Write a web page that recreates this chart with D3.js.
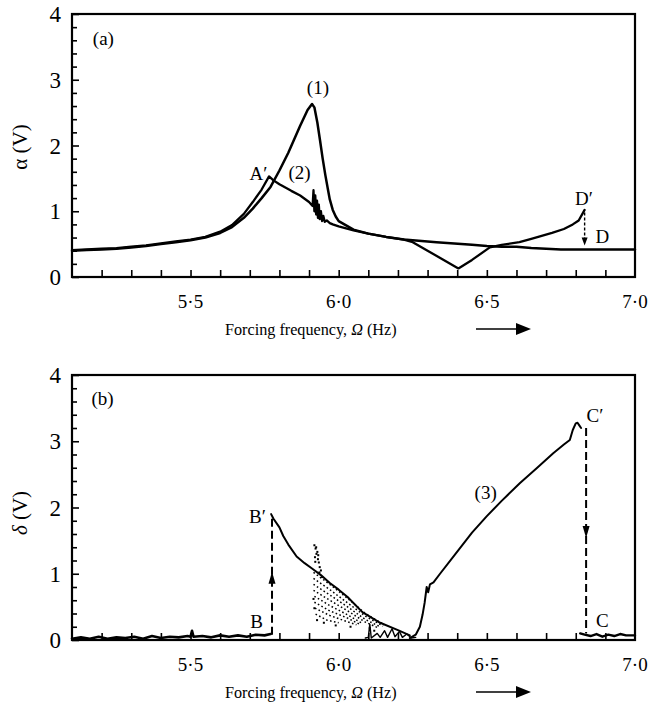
<!DOCTYPE html>
<html>
<head>
<meta charset="utf-8">
<script src="https://cdn.jsdelivr.net/npm/d3@7"></script>
<style>
  body { margin: 0; background: #fff; }
  svg text { font-family: "Liberation Serif", "Times New Roman", serif; fill: #000; }
</style>
</head>
<body>
<svg id="chart" width="650" height="707"></svg>
<script>
// ---------------- data ----------------
const xTickValues = [5.5, 6.0, 6.5, 7.0];
const xTickLabels = ["5·5", "6·0", "6·5", "7·0"];
const yTickValues = [0, 1, 2, 3, 4];
const yTickLabels = ["0", "1", "2", "3", "4"];

// (a) alpha, branch (1)
const alpha1Freq = [5.10,5.15,5.20,5.25,5.30,5.35,5.40,5.45,5.50,5.55,5.60,5.64,5.68,5.71,5.74,5.77,5.80,5.83,5.87,5.895,5.91,5.918,5.928,5.937,5.946,5.955,5.963,5.97,5.98,5.99,6.00,6.05,6.10,6.16,6.22,6.27,6.33,6.39,6.45,6.50,6.55,6.60,6.65,6.70,6.75,6.80,6.85,6.90,6.95,7.00];
const alpha1Amp  = [0.40,0.41,0.42,0.43,0.45,0.47,0.50,0.53,0.56,0.60,0.67,0.76,0.90,1.04,1.20,1.37,1.62,1.89,2.30,2.54,2.63,2.58,2.35,2.08,1.80,1.55,1.35,1.18,1.02,0.92,0.85,0.72,0.66,0.61,0.57,0.55,0.53,0.51,0.49,0.47,0.46,0.46,0.44,0.43,0.42,0.42,0.42,0.42,0.42,0.42];

// (a) alpha, branch (2): A' then dip near 6.4 and D'
const alpha2Freq = [5.10,5.15,5.20,5.25,5.30,5.35,5.40,5.45,5.50,5.55,5.60,5.64,5.68,5.71,5.74,5.765,5.78,5.80,5.84,5.87,5.90,5.912,5.915,5.918,5.921,5.924,5.927,5.930,5.933,5.936,5.940,5.944,5.948,5.953,5.96,5.97,5.98,6.00,6.05,6.10,6.16,6.22,6.25,6.30,6.35,6.404,6.45,6.51,6.55,6.61,6.65,6.72,6.76,6.79,6.81,6.83];
const alpha2Amp  = [0.41,0.42,0.43,0.44,0.46,0.48,0.51,0.54,0.57,0.61,0.69,0.79,0.96,1.14,1.33,1.53,1.47,1.41,1.31,1.24,1.14,1.08,1.32,1.00,1.24,0.95,1.16,0.90,1.10,0.88,1.00,0.85,0.93,0.84,0.86,0.82,0.80,0.77,0.71,0.66,0.61,0.57,0.53,0.40,0.27,0.13,0.26,0.45,0.49,0.53,0.58,0.67,0.73,0.80,0.86,1.02];

// (a) jump D' -> D
const jumpAFreq = [6.83];
const jumpAFrom = [0.98];
const jumpATo   = [0.48];

// (b) delta, quiet part before B
const delta0Freq = [5.10,5.13,5.16,5.19,5.22,5.25,5.28,5.31,5.34,5.37,5.40,5.43,5.46,5.49,5.50,5.505,5.51,5.54,5.57,5.60,5.63,5.66,5.69,5.72,5.75,5.77];
const delta0Amp  = [0.02,0.04,0.02,0.05,0.02,0.04,0.03,0.05,0.02,0.06,0.03,0.05,0.04,0.06,0.05,0.14,0.05,0.06,0.04,0.07,0.05,0.07,0.05,0.08,0.07,0.09];

// (b) delta, branch from B' down to the quiet zone
const delta1Freq = [5.772,5.78,5.80,5.813,5.83,5.858,5.885,5.91,5.94,5.97,6.00,6.03,6.08,6.14,6.20,6.24];
const delta1Amp  = [1.90,1.83,1.70,1.57,1.44,1.26,1.16,1.08,0.98,0.86,0.76,0.65,0.42,0.26,0.15,0.07];

// (b) scattered modulated band
const stripe1 = [[5.915,1.02],[5.97,0.84],[6.03,0.63],[6.09,0.40],[6.15,0.24]];
const stripe2 = [[5.915,0.93],[5.97,0.76],[6.03,0.56],[6.09,0.36],[6.15,0.21]];
const stripe3 = [[5.915,0.84],[5.97,0.68],[6.03,0.50],[6.09,0.31],[6.14,0.20]];
const stripe4 = [[5.915,0.75],[5.97,0.60],[6.03,0.44],[6.09,0.27],[6.13,0.19]];
const stripe5 = [[5.918,0.66],[5.97,0.52],[6.03,0.38],[6.08,0.25]];
const stripe6 = [[5.918,0.57],[5.97,0.44],[6.03,0.33],[6.07,0.24]];
const stripe7 = [[5.92,0.48],[5.97,0.37],[6.02,0.29],[6.06,0.23]];
const stripe8 = [[5.922,0.39],[5.96,0.30],[6.00,0.26]];
const looseFreq = [5.918,5.922,5.925,5.928,5.930,5.933,5.936,5.920,5.940,5.924,5.931,5.921,5.935,5.944,5.915,5.918,5.927,5.95,5.99,6.04,6.105,6.12];
const looseAmp  = [1.43,1.38,1.30,1.33,1.22,1.17,1.10,1.25,1.05,1.40,1.28,1.18,1.02,0.95,0.62,0.48,0.30,0.26,0.22,0.20,0.18,0.14];

// (b) small bursts near zero
const delta2Freq = [6.09,6.10,6.105,6.11,6.13,6.14,6.155,6.165,6.18,6.19,6.205,6.215,6.23,6.245,6.26];
const delta2Amp  = [0.03,0.04,0.24,0.03,0.10,0.04,0.14,0.04,0.17,0.05,0.13,0.04,0.09,0.03,0.04];

// (b) branch (3) up to C'
const delta3Freq = [6.24,6.26,6.274,6.283,6.29,6.297,6.302,6.308,6.32,6.342,6.387,6.45,6.50,6.55,6.612,6.67,6.724,6.76,6.78,6.79,6.80,6.806,6.812,6.818];
const delta3Amp  = [0.03,0.08,0.20,0.38,0.56,0.80,0.72,0.84,0.87,1.00,1.26,1.62,1.87,2.10,2.37,2.60,2.82,2.95,3.02,3.17,3.27,3.28,3.24,3.20];

// (b) quiet part after C
const delta4Freq = [6.815,6.83,6.85,6.87,6.89,6.91,6.93,6.95,6.97,7.00];
const delta4Amp  = [0.10,0.08,0.06,0.09,0.05,0.08,0.06,0.09,0.07,0.07];

// (b) jumps B -> B' (up) and C' -> C (down): freq, start, end, arrow tip
const jumpBFreq = [5.775, 6.835];
const jumpBFrom = [0.08, 3.20];
const jumpBTo   = [1.88, 0.10];
const jumpBTip  = [1.03, 1.54];

// annotations: text, freq, amplitude (baseline)
const labelsA = [["(a)",5.206,3.53],["(1)",5.930,2.78],["A′",5.729,1.475],["(2)",5.868,1.49],["D′",6.828,1.095],["D",6.890,0.517]];
const labelsB = [["(b)",5.203,3.55],["B′",5.726,1.77],["B",5.723,0.18],["(3)",6.496,2.13],["C′",6.865,3.29],["C",6.890,0.196]];

// ---------------- drawing ----------------
const svg = d3.select("#chart");
const left = 72, right = 635;
const x = d3.scaleLinear().domain([5.1, 7.0]).range([left, right]);
const minorX = d3.range(5.2, 6.95, 0.1);
const minorY = [0.2,0.4,0.6,0.8,1.2,1.4,1.6,1.8,2.2,2.4,2.6,2.8,3.2,3.4,3.6,3.8];
const zip = (f, a) => f.map((v, i) => [v, a[i]]);

function panel(top, bottom, yTitle, yItalic, yTitleMid) {
  const y = d3.scaleLinear().domain([0, 4]).range([bottom, top]);
  const g = svg.append("g");

  // ticks pointing into the frame
  const xa = g.append("g").attr("transform", `translate(0,${bottom})`)
    .call(d3.axisBottom(x).tickValues(minorX).tickSize(-7).tickFormat(""));
  const ya = g.append("g").attr("transform", `translate(${left},0)`)
    .call(d3.axisLeft(y).tickValues(yTickValues).tickSize(-7).tickFormat(""));
  const ym = g.append("g").attr("transform", `translate(${left},0)`)
    .call(d3.axisLeft(y).tickValues(minorY).tickSize(-5).tickFormat(""));
  [xa, ya, ym].forEach(a => {
    a.select(".domain").remove();
    a.selectAll("line").attr("stroke", "#000").attr("stroke-width", 1.6);
  });

  g.append("rect").attr("x", left).attr("y", top)
    .attr("width", right - left).attr("height", bottom - top)
    .attr("fill", "none").attr("stroke", "#000").attr("stroke-width", 2.2);

  xTickValues.forEach((v, i) => {
    g.append("text").attr("x", x(v)).attr("y", bottom + 31)
      .attr("text-anchor", "middle").attr("font-size", 19).text(xTickLabels[i]);
  });
  yTickValues.forEach((v, i) => {
    g.append("text").attr("x", 61).attr("y", y(v) + 8)
      .attr("text-anchor", "end").attr("font-size", 23).text(yTickLabels[i]);
  });

  // vertical axis title
  const yt = g.append("text")
    .attr("transform", `translate(27,${yTitleMid}) rotate(-90)`)
    .attr("text-anchor", "middle").attr("font-size", 21);
  yt.append("tspan").attr("font-style", yItalic ? "italic" : "normal").text(yTitle);
  yt.append("tspan").text(" (V)");

  // horizontal axis title with arrow
  const tb = bottom + 58;
  const xt = g.append("text").attr("x", 225).attr("y", tb).attr("font-size", 16.2);
  xt.append("tspan").text("Forcing frequency, ");
  xt.append("tspan").attr("font-style", "italic").text("Ω");
  xt.append("tspan").text(" (Hz)");
  g.append("line").attr("x1", 476).attr("x2", 518).attr("y1", tb - 6).attr("y2", tb - 6)
    .attr("stroke", "#000").attr("stroke-width", 1.6);
  g.append("path").attr("d", `M516,${tb - 12}L531,${tb - 6}L516,${tb}Z`).attr("fill", "#000");

  return { g, y };
}

function trace(g, y, pts, w, dash) {
  const line = d3.line().x(d => x(d[0])).y(d => y(d[1]));
  const p = g.append("path").datum(pts).attr("d", line)
    .attr("fill", "none").attr("stroke", "#000").attr("stroke-width", w)
    .attr("stroke-linejoin", "round").attr("stroke-linecap", "round");
  if (dash) p.attr("stroke-dasharray", dash).attr("stroke-linecap", "butt");
  return p;
}

function arrowHead(g, px, py, dir, w, h) {
  // dir = -1 points up, +1 points down; (px,py) is the tip
  g.append("path")
    .attr("d", `M${px},${py}L${px - w / 2},${py - dir * h}L${px + w / 2},${py - dir * h}Z`)
    .attr("fill", "#000");
}

function labels(g, y, list) {
  list.forEach(([t, f, a]) => {
    g.append("text").attr("x", x(f)).attr("y", y(a))
      .attr("text-anchor", "middle").attr("font-size", 19).text(t);
  });
}

// ---- panel (a)
const A = panel(14, 277, "α", false, 147);
trace(A.g, A.y, zip(alpha1Freq, alpha1Amp), 2.5);
trace(A.g, A.y, zip(alpha2Freq, alpha2Amp), 2.3);
jumpAFreq.forEach((f, i) => {
  const tipY = A.y(jumpATo[i]);
  A.g.append("line").attr("x1", x(f)).attr("x2", x(f))
    .attr("y1", A.y(jumpAFrom[i])).attr("y2", tipY - 6)
    .attr("stroke", "#000").attr("stroke-width", 1.4).attr("stroke-dasharray", "3,2");
  arrowHead(A.g, x(f), tipY, 1, 6, 8);
});
labels(A.g, A.y, labelsA);

// ---- panel (b)
const B = panel(375, 640, "δ", true, 513);
trace(B.g, B.y, zip(delta0Freq, delta0Amp), 2.6);
trace(B.g, B.y, zip(delta1Freq, delta1Amp), 2.0);
[stripe1, stripe2, stripe3, stripe4, stripe5, stripe6, stripe7, stripe8].forEach(s => {
  trace(B.g, B.y, s, 1.5, "1.6,2.4");
});
B.g.selectAll("rect.dot").data(zip(looseFreq, looseAmp)).enter().append("rect")
  .attr("class", "dot").attr("x", d => x(d[0]) - 1).attr("y", d => B.y(d[1]) - 1)
  .attr("width", 2).attr("height", 2).attr("fill", "#000");
trace(B.g, B.y, zip(delta2Freq, delta2Amp), 1.4);
trace(B.g, B.y, zip(delta3Freq, delta3Amp), 2.0);
trace(B.g, B.y, zip(delta4Freq, delta4Amp), 2.4);
jumpBFreq.forEach((f, i) => {
  B.g.append("line").attr("x1", x(f)).attr("x2", x(f))
    .attr("y1", B.y(jumpBFrom[i])).attr("y2", B.y(jumpBTo[i]))
    .attr("stroke", "#000").attr("stroke-width", 2).attr("stroke-dasharray", "8,4");
  const dir = jumpBTo[i] > jumpBFrom[i] ? -1 : 1;
  arrowHead(B.g, x(f), B.y(jumpBTip[i]), dir, 7, 12);
});
labels(B.g, B.y, labelsB);
</script>
</body>
</html>
